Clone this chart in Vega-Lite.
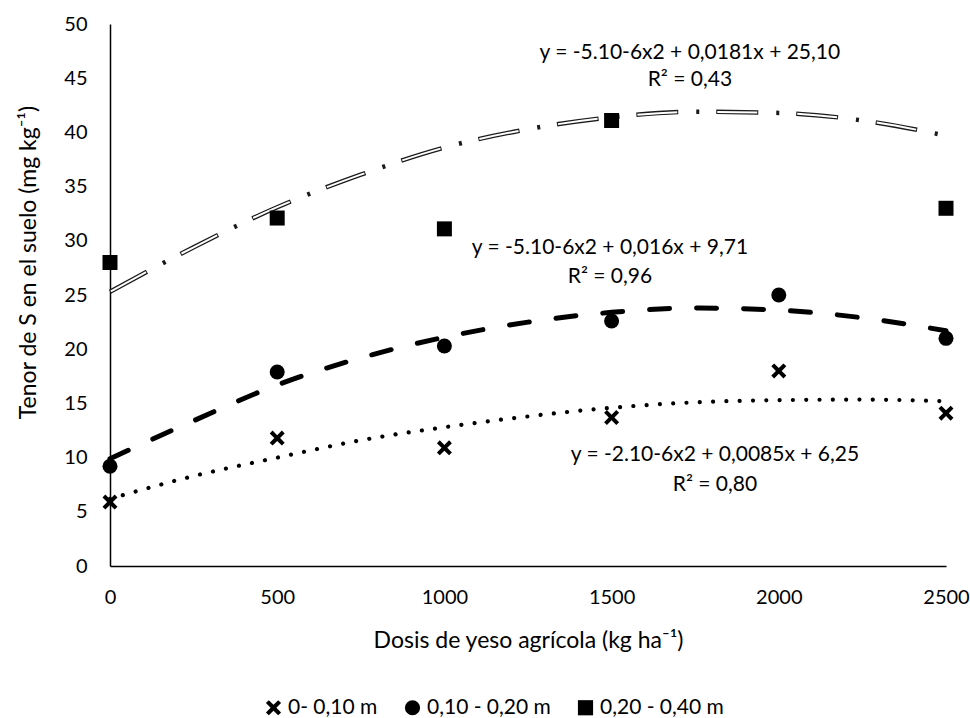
{
  "$schema": "https://vega.github.io/schema/vega-lite/v6.json",
  "width": 836,
  "height": 542,
  "autosize": "none",
  "padding": {"left": 110, "top": 24, "right": 24, "bottom": 152},
  "background": "white",
  "config": {
    "font": "Lato",
    "view": {"stroke": null},
    "axis": {"grid": false, "ticks": false, "domainColor": "black", "domainWidth": 1.5, "labelColor": "black", "labelFont": "Lato", "labelFontSize": 20, "labelFontWeight": "normal", "titleColor": "black", "titleFont": "Lato", "titleFontSize": 23, "titleFontWeight": "normal"},
    "legend": {"labelFont": "Lato", "labelFontSize": 21, "labelColor": "black"}
  },
  "datasets": {
    "puntos": [
      {"dosis": 0, "S": 5.9, "serie": "0- 0,10 m"},
      {"dosis": 500, "S": 11.8, "serie": "0- 0,10 m"},
      {"dosis": 1000, "S": 10.9, "serie": "0- 0,10 m"},
      {"dosis": 1500, "S": 13.7, "serie": "0- 0,10 m"},
      {"dosis": 2000, "S": 18.0, "serie": "0- 0,10 m"},
      {"dosis": 2500, "S": 14.1, "serie": "0- 0,10 m"},
      {"dosis": 0, "S": 9.2, "serie": "0,10 - 0,20 m"},
      {"dosis": 500, "S": 17.9, "serie": "0,10 - 0,20 m"},
      {"dosis": 1000, "S": 20.3, "serie": "0,10 - 0,20 m"},
      {"dosis": 1500, "S": 22.6, "serie": "0,10 - 0,20 m"},
      {"dosis": 2000, "S": 25.0, "serie": "0,10 - 0,20 m"},
      {"dosis": 2500, "S": 21.0, "serie": "0,10 - 0,20 m"},
      {"dosis": 0, "S": 28.0, "serie": "0,20 - 0,40 m"},
      {"dosis": 500, "S": 32.1, "serie": "0,20 - 0,40 m"},
      {"dosis": 1000, "S": 31.1, "serie": "0,20 - 0,40 m"},
      {"dosis": 1500, "S": 41.1, "serie": "0,20 - 0,40 m"},
      {"dosis": 2500, "S": 33.0, "serie": "0,20 - 0,40 m"}
    ],
    "curvas": [
      {"dosis": 0, "S": 6.2, "curva": "c1"},
      {"dosis": 250, "S": 8.3, "curva": "c1"},
      {"dosis": 500, "S": 10.0, "curva": "c1"},
      {"dosis": 750, "S": 11.6, "curva": "c1"},
      {"dosis": 1000, "S": 12.8, "curva": "c1"},
      {"dosis": 1250, "S": 13.8, "curva": "c1"},
      {"dosis": 1500, "S": 14.6, "curva": "c1"},
      {"dosis": 1750, "S": 15.1, "curva": "c1"},
      {"dosis": 2000, "S": 15.3, "curva": "c1"},
      {"dosis": 2250, "S": 15.35, "curva": "c1"},
      {"dosis": 2500, "S": 15.2, "curva": "c1"},
      {"dosis": 0, "S": 9.9, "curva": "c2"},
      {"dosis": 250, "S": 13.4, "curva": "c2"},
      {"dosis": 500, "S": 16.7, "curva": "c2"},
      {"dosis": 750, "S": 19.2, "curva": "c2"},
      {"dosis": 1000, "S": 21.1, "curva": "c2"},
      {"dosis": 1250, "S": 22.5, "curva": "c2"},
      {"dosis": 1500, "S": 23.4, "curva": "c2"},
      {"dosis": 1750, "S": 23.8, "curva": "c2"},
      {"dosis": 2000, "S": 23.6, "curva": "c2"},
      {"dosis": 2250, "S": 22.9, "curva": "c2"},
      {"dosis": 2500, "S": 21.7, "curva": "c2"},
      {"dosis": 0, "S": 25.3, "curva": "c3"},
      {"dosis": 250, "S": 29.4, "curva": "c3"},
      {"dosis": 500, "S": 33.1, "curva": "c3"},
      {"dosis": 750, "S": 36.1, "curva": "c3"},
      {"dosis": 1000, "S": 38.6, "curva": "c3"},
      {"dosis": 1250, "S": 40.3, "curva": "c3"},
      {"dosis": 1500, "S": 41.4, "curva": "c3"},
      {"dosis": 1750, "S": 41.9, "curva": "c3"},
      {"dosis": 2000, "S": 41.8, "curva": "c3"},
      {"dosis": 2250, "S": 41.1, "curva": "c3"},
      {"dosis": 2500, "S": 39.7, "curva": "c3"}
    ],
    "ecuaciones": [
      {"dosis": 1734, "S": 47.3, "texto": "y = -5.10-6x2 + 0,0181x + 25,10"},
      {"dosis": 1734, "S": 44.8, "texto": "R² = 0,43"},
      {"dosis": 1495, "S": 29.3, "texto": "y = -5.10-6x2 + 0,016x + 9,71"},
      {"dosis": 1495, "S": 26.7, "texto": "R² = 0,96"},
      {"dosis": 1809, "S": 10.2, "texto": "y = -2.10-6x2 + 0,0085x + 6,25"},
      {"dosis": 1809, "S": 7.5, "texto": "R² = 0,80"}
    ]
  },
  "encoding": {
    "x": {"field": "dosis", "type": "quantitative", "scale": {"domain": [0, 2500], "nice": false, "zero": false},
      "axis": {"values": [0, 500, 1000, 1500, 2000, 2500], "format": "d", "labelPadding": 21, "title": "Dosis de yeso agrícola (kg ha⁻¹)", "titleBaseline": "middle", "titleY": 74, "titleX": 418, "labelFlush": false}},
    "y": {"field": "S", "type": "quantitative", "scale": {"domain": [0, 50], "nice": false},
      "axis": {"values": [0, 5, 10, 15, 20, 25, 30, 35, 40, 45, 50], "format": "d", "labelPadding": 23, "title": "Tenor de S en el suelo (mg kg⁻¹)", "titleBaseline": "middle", "titleAngle": -90, "titleX": -82, "titleY": 238}}
  },
  "layer": [
    {
      "data": {"name": "curvas"},
      "transform": [{"filter": "datum.curva === 'c3'"}],
      "mark": {"type": "line", "interpolate": "monotone", "color": "#1a1a1a", "strokeWidth": 4.5, "strokeDash": [42, 18, 3, 17]}
    },
    {
      "data": {"name": "curvas"},
      "transform": [{"filter": "datum.curva === 'c3'"}],
      "mark": {"type": "line", "interpolate": "monotone", "color": "white", "strokeWidth": 2, "strokeDash": [40, 40], "strokeDashOffset": -1}
    },
    {
      "data": {"name": "curvas"},
      "transform": [{"filter": "datum.curva === 'c2'"}],
      "mark": {"type": "line", "interpolate": "monotone", "color": "black", "strokeWidth": 5, "strokeCap": "round", "strokeDash": [20, 27]}
    },
    {
      "data": {"name": "curvas"},
      "transform": [{"filter": "datum.curva === 'c1'"}],
      "mark": {"type": "line", "interpolate": "monotone", "color": "black", "strokeWidth": 4.2, "strokeCap": "round", "strokeDash": [0.01, 13.3]}
    },
    {
      "data": {"name": "puntos"},
      "mark": {"type": "point", "filled": true, "color": "black", "opacity": 1, "size": 225},
      "encoding": {
        "shape": {"field": "serie", "type": "nominal",
          "scale": {"domain": ["0- 0,10 m", "0,10 - 0,20 m", "0,20 - 0,40 m"],
            "range": ["M-1,-0.62L-0.62,-1L0,-0.38L0.62,-1L1,-0.62L0.38,0L1,0.62L0.62,1L0,0.38L-0.62,1L-1,0.62L-0.38,0Z", "circle", "square"]},
          "legend": {"title": null, "orient": "none", "direction": "horizontal", "legendX": 153, "legendY": 673, "symbolSize": 230, "symbolFillColor": "black", "symbolStrokeWidth": 0, "symbolOpacity": 1, "labelOffset": 4, "columnPadding": 24}}
      }
    },
    {
      "data": {"name": "ecuaciones"},
      "mark": {"type": "text", "font": "Lato", "fontSize": 21, "color": "black", "align": "center", "baseline": "middle"},
      "encoding": {"text": {"field": "texto"}}
    }
  ]
}
